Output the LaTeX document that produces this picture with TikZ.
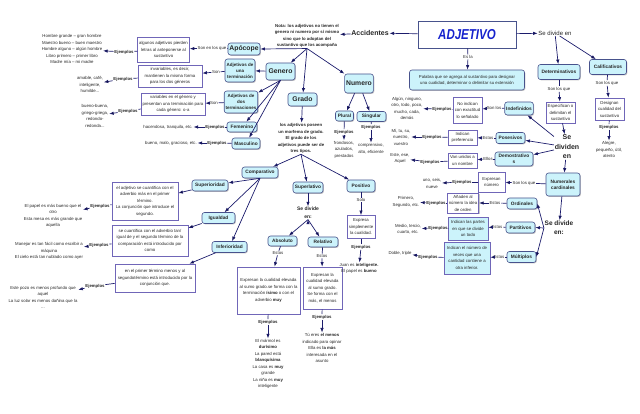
\documentclass[tikz,border=0pt]{standalone}
\usepackage{fontspec}
\setmainfont{Liberation Sans}
\usepackage{xcolor}
\usepackage{graphicx}
\usetikzlibrary{arrows.meta}
\usetikzlibrary{positioning}
\usetikzlibrary{shadows}

\definecolor{cfill}{RGB}{204,243,251}
\definecolor{cborde}{RGB}{72,82,140}
\definecolor{nborde}{RGB}{112,102,184}
\definecolor{flechac}{RGB}{28,28,108}
\definecolor{azul}{RGB}{22,34,205}

\newcommand{\chico}{\fontsize{4.3}{6.5}\selectfont}

\begin{document}
\begin{tikzpicture}[x=1pt,y=-1pt]
\tikzstyle{every node}=[text=black!85,inner sep=0.6pt]
\tikzstyle{sombra}=[drop shadow={shadow xshift=0.9pt,shadow yshift=-0.9pt,opacity=0.45}]
\tikzstyle{concepto}=[draw=cborde,fill=cfill,rounded corners=2.5pt,line width=0.6pt,align=center,inner sep=1.5pt,font=\bfseries\fontsize{4.8}{5.8}\selectfont,sombra]
\tikzstyle{grande}=[concepto,font=\bfseries\fontsize{6.8}{8}\selectfont]
\tikzstyle{caja}=[draw=nborde,fill=white,line width=0.6pt,align=center,inner sep=1.5pt,font=\chico,sombra]
\tikzstyle{cajac}=[caja,fill=cfill]
\tikzstyle{enlace}=[font=\chico,align=center]
\tikzstyle{ejem}=[font=\bfseries\chico,align=center]
\tikzstyle{texto}=[font=\chico,align=center]
\tikzstyle{conector}=[-{Latex[length=4.6pt,width=3.4pt]},draw=flechac,line width=0.7pt]
\tikzstyle{linea}=[-,draw=flechac,line width=0.7pt]

\useasboundingbox (0,0) rectangle (640,414);

% cabecera
\node (adj) at (467,34.5) [draw=cborde,fill=white,line width=0.6pt,minimum width=98,minimum height=27,sombra] {\scalebox{1}[1.25]{\fontsize{11.5}{12}\selectfont\bfseries\itshape\color{azul}ADJETIVO}};
\node (sedivA) at (555,33) [font=\fontsize{6}{7}\selectfont] {Se divide en};
\node (acc) at (370,33) [font=\bfseries\fontsize{7}{8}\selectfont] {Accidentes};
\node (nota) at (307,36) [ejem] {Nota: los adjetivos no tienen el\\ genero ni numero por sí mismo\\ sino que lo adoptan del\\ sustantivo que los acompaña};
\node (esla) at (468,57) [enlace] {Es la};
\node (def) at (467,80) [concepto,font=\chico,minimum width=115,minimum height=20] {Palabra que se agrega al sustantivo para designar\\ una cualidad, determinar o delimitar su extensión};

% determinativos y calificativos
\node (det) at (559,72) [concepto,minimum width=42,minimum height=15] {Determinativos};
\node (cal) at (608,67) [concepto,minimum width=37,minimum height=15] {Calificativos};
\node (sonq1) at (559,89) [enlace] {Son los que};
\node (espec) at (560.5,112.5) [caja,minimum width=29,minimum height=21] {Especifican o\\ delimitan el\\ sustantivo};
\node (sonq2) at (607,83) [enlace] {Son los que};
\node (desig) at (609.5,109) [caja,minimum width=29,minimum height=22] {Designan\\ cualidad del\\ sustantivo};
\node (ejcal) at (609,127) [ejem] {Ejemplos};
\node (caltx) at (609,149.5) [texto] {Alegre,\\ pequeño, útil,\\ atento};
\node (sediv) at (567,147) [align=center,font=\bfseries\fontsize{7}{9.5}\selectfont] {Se\\ dividen\\ en};

\node (indef) at (519,108.5) [concepto,minimum width=28,minimum height=13] {Indefinidos};
\node (sonl) at (494,108) [enlace] {Son los};
\node (noind) at (467.5,110) [caja,minimum width=29,minimum height=26] {No indican\\ con exactitud\\ lo señalado};
\node (ejind) at (442,109) [ejem] {Ejemplos};
\node (indtx) at (407,108.5) [texto] {Algún, ninguno,\\ otro, todo, poco,\\ mucho, cada,\\ demás};

\node (poses) at (510.5,138) [concepto,minimum width=29,minimum height=11] {Posesivos};
\node (estos1) at (488,138) [enlace] {Estos};
\node (pref) at (462.5,137.5) [caja,minimum width=29,minimum height=15] {Indican\\ preferencia};
\node (ejpos) at (432,137) [ejem] {Ejemplos};
\node (postx) at (401,137) [texto] {Mí, tu, su,\\ nuestro,\\ vuestro};

\node (demos) at (514,159) [concepto,minimum width=38,minimum height=14] {Demostrativo\\ s};
\node (ellos) at (488,159) [enlace] {Ellos};
\node (unid) at (462.5,160.5) [caja,minimum width=29,minimum height=15] {Van unidos a\\ un nombre};
\node (ejdem) at (430,162) [ejem] {Ejemplos};
\node (demtx) at (400,158.5) [texto] {Este, ese,\\ Aquel};

\node (numc) at (563,184.5) [concepto,minimum width=34,minimum height=23] {Numerales\\ cardinales};
\node (sonq3) at (524,183) [enlace] {Son los que};
\node (expn) at (491.5,182) [caja,minimum width=27,minimum height=20] {Expresan\\ número};
\node (ejnum) at (462,182) [ejem] {Ejemplos};
\node (numtx) at (432,183.5) [texto] {uno, seis,\\ nueve};

\node (sediv2) at (559,228) [align=center,font=\bfseries\fontsize{6.5}{9}\selectfont] {Se divide\\ en:};
\node (ordin) at (522,203.5) [concepto,minimum width=30,minimum height=11] {Ordinales};
\node (estos2) at (495,203) [enlace] {Estos};
\node (anad) at (463,203) [caja,minimum width=30,minimum height=20] {Añaden al\\ número la idea\\ de orden};
\node (ejord) at (436,203) [ejem] {Ejemplos};
\node (ordtx) at (406,202) [texto] {Primero,\\ Segundo, etc.};

\node (partit) at (520.5,227.5) [concepto,minimum width=29,minimum height=11] {Partitivos};
\node (estos3) at (497,227) [enlace] {Estos};
\node (partes) at (468,228.5) [cajac,minimum width=40,minimum height=23] {Indican las partes\\ en que se divide\\ un todo};
\node (ejpar) at (438,228) [ejem] {Ejemplos};
\node (partx) at (408,229) [texto] {Medio, tercio,\\ cuarto, etc.};

\node (multi) at (521.5,257) [concepto,minimum width=29,minimum height=11] {Múltiplos};
\node (estos4) at (499,257) [enlace] {Estos};
\node (veces) at (467,258) [cajac,minimum width=46,minimum height=32] {Indican el número de\\ veces que una\\ cantidad contiene a\\ otra inferior.};
\node (ejmul) at (428,257) [ejem] {Ejemplos};
\node (multx) at (400,253) [texto] {Doble, triple};

% apocope y genero
\node (apoc) at (244,49) [grande,minimum width=32,minimum height=12] {Apócope};
\node (sonenq) at (212,48) [enlace] {Son en los que};
\node (pierd) at (163.5,49.5) [caja,minimum width=51,minimum height=25] {algunos adjetivos pierden\\ letras al anteponerse al\\ sustantivo};
\node (ejapo) at (124,52) [ejem] {Ejemplos};
\node (apotx) at (72,49) [texto] {Hombre grande – gran hombre\\ Maestro bueno – buen maestro\\ Hombre alguno – algún hombre\\ Libro primero – primer libro\\ Madre mía – mi madre};

\node (gen) at (280.5,71.5) [grande,minimum width=29,minimum height=17] {Genero};
\node (una) at (240,70.5) [concepto,font=\bfseries\fontsize{4.5}{6}\selectfont,minimum width=30,minimum height=23] {Adjetivos de\\ una\\ terminación};
\node (son1) at (216,72) [enlace] {Son};
\node (invar) at (170,76) [caja,minimum width=64,minimum height=22] {invariables, es decir,\\ mantienen la misma forma\\ para los dos géneros};
\node (ejuna) at (123,79) [ejem] {Ejemplos};
\node (unatx) at (90,84.5) [texto] {amable, café,\\ inteligente,\\ humilde...};

\node (dos) at (241,102) [concepto,font=\bfseries\fontsize{4.5}{6}\selectfont,minimum width=32,minimum height=22] {Adjetivos de\\ dos\\ terminaciones};
\node (son2) at (214,103) [enlace] {Son};
\node (varia) at (173,104) [caja,minimum width=64,minimum height=22] {variables en el género y\\ presentan una terminación para\\ cada género: o-a};
\node (ejdos) at (128,111) [ejem] {Ejemplos};
\node (dostx) at (95,116) [texto] {bueno-buena,\\ griego-griega,\\ redondo-\\ redonda...};

\node (fem) at (242,127) [concepto,minimum width=30,minimum height=10] {Femenino};
\node (ejfem) at (215,127) [ejem] {Ejemplos};
\node (femtx) at (168,127) [texto] {hacendosa, tranquila, etc.};
\node (masc) at (246,143.5) [concepto,minimum width=28,minimum height=11] {Masculino};
\node (ejmas) at (217,143) [ejem] {Ejemplos};
\node (mastx) at (171,143) [texto] {bueno, malo, gracioso, etc.};

% grado
\node (grado) at (302.5,99.5) [grande,minimum width=29,minimum height=13] {Grado};
\node (gradtx) at (301,138.5) [ejem] {los adjetivos poseen\\ un morfema de grado.\\ El grado de los\\ adjetivos puede ser de\\ tres tipos.};

\node (comp) at (260,172.5) [concepto,minimum width=36,minimum height=11] {Comparativo};
\node (sup) at (210,185.5) [concepto,minimum width=36,minimum height=11] {Superioridad};
\node (supbox) at (145,201) [caja,minimum width=66,minimum height=38] {el adjetivo se cuantifica con el\\ adverbio más en el primer\\ término.\\ La conjunción que introduce el\\ segundo.};
\node (ejsup) at (100,206) [ejem] {Ejemplos};
\node (suptx) at (53,216) [texto] {El papel es más bueno que el\\ otro\\ Esta mesa es más grande que\\ aquella};

\node (igu) at (218.5,218) [concepto,minimum width=33,minimum height=11] {Igualdad};
\node (igubox) at (150,240.5) [caja,minimum width=76,minimum height=31] {se cuantifica con el adverbio tan/\\ igual de y el segundo término de la\\ comparación está introducido por\\ como};
\node (ejigu) at (99,245) [ejem] {Ejemplos};
\node (igutx) at (49,251) [texto] {Manejar es tan fácil como escribir a\\ máquina\\ El cielo está tan nublado como ayer};

\node (inf) at (229.5,247) [concepto,minimum width=35,minimum height=11] {Inferioridad};
\node (infbox) at (155,278) [caja,minimum width=80,minimum height=28] {en el primer término menos y al\\ segundotérmino está introducido por la\\ conjunción que.};
\node (ejinf) at (95,286) [ejem] {Ejemplos};
\node (inftx) at (43,297.5) [texto] {Este pozo es menos profundo que\\ aquel\\ La luz solar es menos dañina que la\\ ...};

\node (superl) at (308,187.5) [concepto,minimum width=30,minimum height=11] {Superlativo};
\node (sediv3) at (308,213) [align=center,font=\bfseries\fontsize{5}{8}\selectfont] {Se divide\\ en:};
\node (abs) at (282.5,241) [concepto,minimum width=29,minimum height=10] {Absoluto};
\node (rel) at (323,242) [concepto,minimum width=30,minimum height=10] {Relativo};
\node (estos5) at (278,253) [enlace] {Estos};
\node (absbox) at (268.5,290.5) [caja,minimum width=63,minimum height=47] {Expresan la cualidad elevada\\ al sumo grado.se forma con la\\ terminación \textbf{ísimo} o con el\\ adverbio \textbf{muy}};
\node (ejabs) at (268,322) [ejem] {Ejemplos};
\node (abstx) at (268,364) [texto] {El mármol es\\ \textbf{durísimo}\\ La pared está\\ \textbf{blanquísima}\\ La casa es \textbf{muy}\\ grande\\ La niña es \textbf{muy}\\ inteligente};
\node (estos6) at (322,256) [enlace] {Estos};
\node (relbox) at (322.5,288) [caja,minimum width=39,minimum height=42] {Expresan la\\ cualidad elevada\\ al sumo grado.\\ Se forma con el\\ más, el menos};
\node (ejrel) at (322,317) [ejem] {Ejemplos};
\node (reltx) at (322,348) [texto] {Tú eres \textbf{el menos}\\ indicado para opinar\\ Ella es \textbf{la más}\\ interesada en el\\ asunto};

\node (pos) at (361,186) [concepto,minimum width=28,minimum height=12] {Positivo};
\node (solo) at (361,200) [enlace] {Solo};
\node (posbox) at (361,227) [caja,minimum width=28,minimum height=23] {Expresa\\ simplemente\\ la cualidad.};
\node (ejpos2) at (361,247) [ejem] {Ejemplos};
\node (postx2) at (359,268.5) [texto] {Juan es \textbf{inteligente.}\\ El papel es \textbf{bueno}};

% numero
\node (num) at (359,83.5) [grande,minimum width=28,minimum height=19] {Numero};
\node (plur) at (344.5,116) [concepto,minimum width=18,minimum height=10] {Plural};
\node (sing) at (371.5,116.5) [concepto,minimum width=29,minimum height=10] {Singular};
\node (ejpl) at (344,132) [ejem] {Ejemplos};
\node (pltx) at (344,149.5) [texto] {frondosos,\\ azulados,\\ prestados};
\node (ejsg) at (371,127) [ejem] {Ejemplos};
\node (sgtx) at (371,148.5) [texto] {comprensivo,\\ alto, eficiente};

\path[conector]
(adj) edge (sedivA)
(sedivA) edge (det)
(sedivA) edge (cal)
(adj) edge (acc)
(acc) edge (nota)
(esla) edge (def)
(nota.south) edge (apoc.east)
(nota.south) edge (gen)
(nota.south) edge (grado)
(nota.south) edge (num)
(sonq1) edge (espec)
(sonq2) edge (desig)
(ejcal) edge (caltx)
(espec) edge (sediv)
(sediv) edge (indef)
(sediv) edge (poses)
(sediv) edge (demos)
(sediv) edge (numc)
(sonl) edge (noind)
(ejind) edge (indtx)
(estos1) edge (pref)
(ejpos) edge (postx)
(ellos) edge (unid)
(ejdem) edge (demtx)
(sonq3) edge (expn)
(ejnum) edge (numtx)
(numc) edge (sediv2)
(sediv2.west) edge (ordin.east)
(sediv2.west) edge (partit.east)
(sediv2.west) edge (multi.east)
(estos2) edge (anad)
(ejord) edge (ordtx)
(estos3) edge (partes)
(ejpar) edge (partx)
(estos4) edge (veces)
(ejmul) edge (multx)
(sonenq) edge (pierd)
(ejapo) edge (apotx)
(gen) edge (una)
(gen.south) edge (dos)
(gen.south) edge (fem)
(gen.south) edge (masc)
(son1) edge (invar)
(ejuna) edge (unatx)
(son2) edge (varia)
(ejdos) edge (dostx)
(ejfem) edge (femtx)
(ejmas) edge (mastx)
(grado) edge (gradtx)
(gradtx.south) edge (comp)
(gradtx.south) edge (superl)
(gradtx.south) edge (pos)
(comp.south) edge (sup)
(comp.south) edge (igu)
(comp.south) edge (inf)
(sup) edge (supbox)
(ejsup) edge (suptx)
(igu) edge (igubox)
(ejigu) edge (igutx)
(inf) edge (infbox)
(ejinf) edge (inftx)
(superl) edge (sediv3)
(sediv3.south) edge (abs)
(sediv3.south) edge (rel)
(estos5) edge (absbox)
(ejabs) edge (abstx)
(estos6) edge (relbox)
(ejrel) edge (reltx)
(solo) edge (posbox)
(ejpos2) edge (postx2)
(num) edge (plur)
(num) edge (sing)
(ejpl) edge (pltx)
(ejsg) edge (sgtx);

\path[linea]
(adj) edge (esla)
(det) edge (sonq1)
(cal) edge (sonq2)
(desig) edge (ejcal)
(indef) edge (sonl)
(noind) edge (ejind)
(poses) edge (estos1)
(pref) edge (ejpos)
(demos) edge (ellos)
(unid) edge (ejdem)
(numc) edge (sonq3)
(expn) edge (ejnum)
(ordin) edge (estos2)
(anad) edge (ejord)
(partit) edge (estos3)
(partes) edge (ejpar)
(multi) edge (estos4)
(veces) edge (ejmul)
(apoc) edge (sonenq)
(pierd) edge (ejapo)
(una) edge (son1)
(invar) edge (ejuna)
(dos) edge (son2)
(varia) edge (ejdos)
(fem) edge (ejfem)
(masc) edge (ejmas)
(supbox) edge (ejsup)
(igubox) edge (ejigu)
(infbox) edge (ejinf)
(abs) edge (estos5)
(absbox) edge (ejabs)
(rel) edge (estos6)
(relbox) edge (ejrel)
(pos) edge (solo)
(posbox) edge (ejpos2)
(plur) edge (ejpl)
(sing) edge (ejsg);

\end{tikzpicture}
\end{document}
